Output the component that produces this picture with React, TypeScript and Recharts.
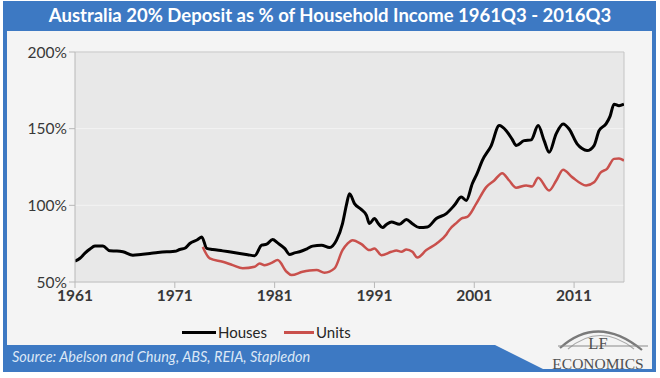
import React from "react";
import { LineChart, Line, XAxis, YAxis, CartesianGrid, ReferenceLine } from "recharts";

const housesYears = [1961.0,1961.5,1962.0,1962.5,1963.0,1963.8,1964.5,1965.2,1965.8,1966.8,1967.6,1968.5,1969.3,1970.2,1971.0,1971.5,1972.0,1972.5,1973.3,1973.7,1974.2,1974.8,1975.8,1976.6,1977.5,1978.3,1979.0,1979.7,1980.2,1980.8,1981.3,1982.0,1982.5,1983.0,1983.5,1984.2,1984.8,1985.7,1986.5,1987.2,1987.8,1988.2,1988.5,1989.0,1989.7,1990.2,1990.5,1991.0,1991.4,1991.8,1992.2,1992.7,1993.5,1994.2,1994.8,1995.5,1996.3,1997.2,1998.2,1999.0,1999.7,2000.2,2000.8,2001.3,2001.8,2002.7,2003.5,2004.2,2004.8,2005.2,2006.0,2006.7,2007.4,2008.0,2008.5,2009.2,2009.9,2010.5,2011.3,2011.8,2012.3,2013.0,2013.5,2014.2,2014.6,2015.0,2015.5,2016.0];
const housesValues = [63.6,65.5,68.8,71.5,73.4,73.4,70.3,70.2,69.7,67.5,68.0,68.6,69.2,69.7,70.0,71.2,72.0,75.1,77.7,79.4,71.9,71.2,70.3,69.5,68.6,67.8,67.1,74.0,74.7,77.7,75.5,71.9,68.0,69.0,69.7,71.5,73.4,74.0,72.5,77.3,88.1,100.5,107.6,101.1,97.2,93.5,88.1,91.4,88.0,85.5,87.5,89.2,87.7,90.7,88.0,85.5,85.9,91.4,94.6,100.0,105.4,103.2,114.1,121.0,129.2,139.0,152.0,148.7,143.0,139.0,142.2,142.7,152.0,142.2,134.6,146.6,153.1,149.8,140.1,137.0,135.7,139.0,148.7,153.1,158.0,166.0,165.0,166.0];

const unitsYears = [1973.8,1974.5,1975.8,1976.8,1977.8,1979.0,1979.5,1980.0,1980.7,1981.3,1982.2,1982.7,1983.8,1984.5,1985.2,1986.0,1987.0,1987.8,1988.3,1988.8,1989.7,1990.5,1991.0,1991.7,1992.7,1993.2,1993.7,1994.2,1994.8,1995.3,1996.2,1997.2,1998.2,1998.5,1999.3,1999.7,2000.3,2001.2,2002.2,2003.0,2003.8,2004.5,2005.2,2006.2,2006.8,2007.4,2008.5,2009.2,2009.9,2010.8,2012.2,2013.0,2013.7,2014.3,2015.0,2015.5,2016.0];
const unitsValues = [72.9,65.4,63.2,61.0,58.9,59.9,62.1,61.0,62.5,64.3,56.7,54.5,56.7,57.5,57.8,56.1,58.9,70.8,75.0,77.3,74.7,70.8,71.9,67.5,69.7,70.5,69.7,71.2,69.7,66.0,70.8,75.0,81.0,84.0,89.0,91.4,92.4,101.1,111.9,116.2,121.0,116.2,111.5,113.0,112.3,118.0,109.7,116.0,123.2,118.4,113.0,115.1,121.6,123.8,130.3,130.5,129.2];

const xTicks = [1961, 1971, 1981, 1991, 2001, 2011];
const yTicks = [50, 100, 150, 200];
const seriesNames = ["Houses", "Units"];
const titleText = "Australia 20% Deposit as % of Household Income 1961Q3 - 2016Q3";
const sourceText = "Source:  Abelson and Chung, ABS, REIA, Stapledon";

const housesData = housesYears.map((y, i) => ({ year: y, value: housesValues[i] }));
const unitsData = unitsYears.map((y, i) => ({ year: y, value: unitsValues[i] }));

const BLUE = "#3d79c3";
const FONT = "Lato, 'Open Sans', sans-serif";
const SERIF = "'Liberation Serif', 'DejaVu Serif', serif";

export default function App() {
  return (
    <div style={{ position: "absolute", left: 0, top: 0, width: 660, height: 378, background: "#ffffff", overflow: "hidden", fontFamily: FONT }}>
      <div style={{ position: "absolute", left: 3, top: 1, width: 653, height: 371, background: BLUE }} />
      <div style={{ position: "absolute", left: 7, top: 31, width: 645, height: 338, background: "#f4f4f4" }} />
      <svg width={660} height={378} style={{ position: "absolute", left: 0, top: 0 }}>
        <polygon points="7,345 495,345 543,369 7,369" fill={BLUE} />
      </svg>
      <div style={{ position: "absolute", left: 0, top: 4, width: 660, textAlign: "center", color: "#ffffff", fontWeight: 700, fontSize: 18.5 }}>
        {titleText}
      </div>
      <div style={{ position: "absolute", left: 0, top: 0 }}>
        <LineChart width={660} height={378} margin={{ top: 52, right: 36, left: 0, bottom: 66 }}>
          <CartesianGrid vertical={false} fill="#e8e8e8" stroke="#f3f3f3" strokeWidth={1} />
          <XAxis
            dataKey="year"
            type="number"
            domain={[1961, 2016]}
            ticks={xTicks}
            allowDataOverflow
            height={30}
            stroke="#b8b8b8"
            tickSize={6}
            tick={{ fill: "#383838", fontSize: 15.5, fontWeight: 700, fontFamily: FONT }}
          />
          <YAxis
            type="number"
            domain={[50, 200]}
            ticks={yTicks}
            width={75}
            stroke="#b8b8b8"
            tickSize={6}
            tickFormatter={(v: number) => `${v}%`}
            tick={{ fill: "#383838", fontSize: 15.5, fontFamily: FONT }}
          />
          <ReferenceLine x={2016} stroke="#c4c4c4" />
          <ReferenceLine y={200} stroke="#c4c4c4" />
          <Line type="monotone" data={housesData} dataKey="value" name={seriesNames[0]} stroke="#000000" strokeWidth={3} dot={false} isAnimationActive={false} />
          <Line type="monotone" data={unitsData} dataKey="value" name={seriesNames[1]} stroke="#c9504c" strokeWidth={2.5} dot={false} isAnimationActive={false} />
        </LineChart>
      </div>
      <div style={{ position: "absolute", left: 182, top: 323, display: "flex", alignItems: "center", fontSize: 15, color: "#262626" }}>
        <span style={{ display: "inline-block", width: 34, height: 3, background: "#000" }} />
        <span style={{ marginLeft: 2 }}>{seriesNames[0]}</span>
        <span style={{ display: "inline-block", width: 30, height: 3, background: "#c9504c", marginLeft: 17 }} />
        <span style={{ marginLeft: 2 }}>{seriesNames[1]}</span>
      </div>
      <div style={{ position: "absolute", left: 12, top: 348, fontSize: 14.5, fontStyle: "italic", color: "#dbe7f6" }}>
        {sourceText}
      </div>
      <svg width={660} height={378} style={{ position: "absolute", left: 0, top: 0 }}>
        <path d="M 560 348 Q 598 314 642 350" fill="none" stroke="#7a7a7a" strokeWidth={2.2} />
        <path d="M 568 349 Q 600 322 634 349" fill="none" stroke="#a8a8a8" strokeWidth={1.2} />
        <line x1={558} y1={346} x2={648} y2={346} stroke="#8a8a8a" strokeWidth={1.2} />
        <text x={598} y={349} textAnchor="middle" fontFamily={SERIF} fontSize={16.5} fill="#505050">LF</text>
        <text x={598} y={369} textAnchor="middle" fontFamily={SERIF} fontSize={15.5} fill="#505050">ECONOMICS</text>
      </svg>
    </div>
  );
}
